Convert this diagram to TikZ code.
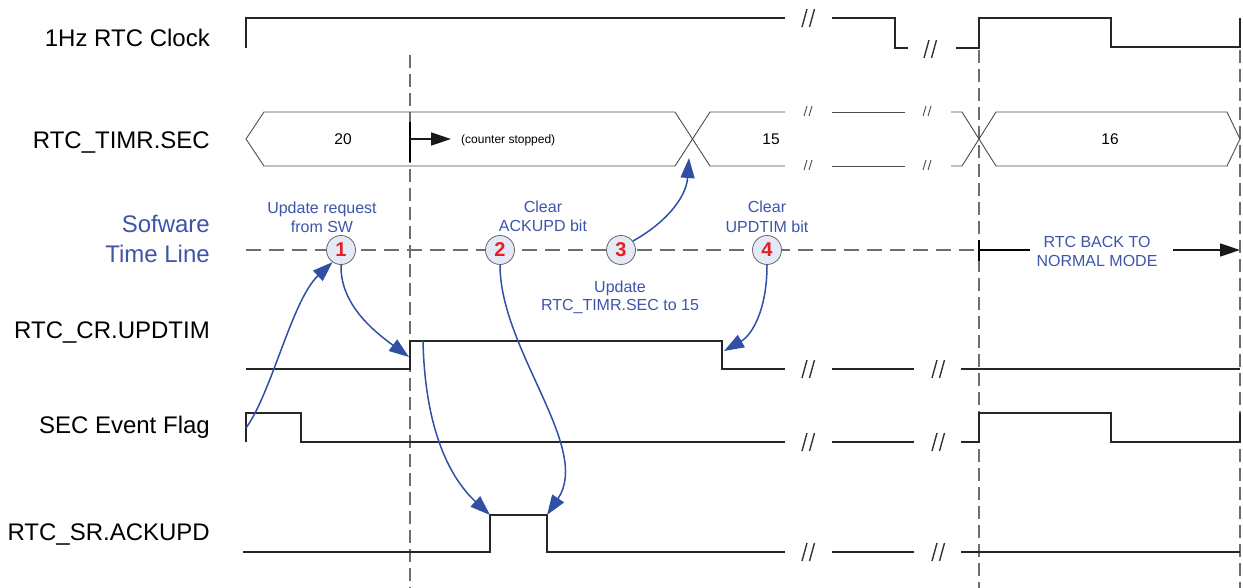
\documentclass[tikz,border=0pt]{standalone}
\usepackage{fontspec}
\setmainfont{Liberation Sans}
\usetikzlibrary{arrows.meta}
\definecolor{sigblue}{RGB}{47,80,165}
\definecolor{txtblue}{RGB}{60,85,170}
\definecolor{dashgray}{RGB}{110,110,110}
\definecolor{circfill}{RGB}{228,234,245}
\definecolor{numred}{RGB}{230,30,40}
\newcommand\mybrk[2]{\draw[brk] (#1-6,#2+9) -- (#1-1,#2-9) (#1+1.5,#2+9) -- (#1+6.5,#2-9);}
\newcommand\mysbrk[2]{\draw[sbrk] (#1-4,#2+5) -- (#1-1,#2-5) (#1+1,#2+5) -- (#1+4,#2-5);}
\begin{document}
\begin{tikzpicture}[x=1pt,y=-1pt,
  sig/.style={line width=1.7pt, black!85, line join=miter},
  bus/.style={line width=0.9pt, black!70},
  vguide/.style={line width=1.4pt, dashgray, dash pattern=on 13pt off 6pt},
  hguide/.style={line width=1.4pt, dashgray, dash pattern=on 15pt off 8pt},
  brk/.style={line width=1.4pt, black!80},
  sbrk/.style={line width=0.9pt, black!70},
  lbl/.style={anchor=base east, inner sep=0, font=\fontsize{24}{28}\selectfont},
  blbl/.style={anchor=base, inner sep=0, text=txtblue, font=\fontsize{16}{19}\selectfont},
  val/.style={inner sep=0, font=\fontsize{15.5}{18}\selectfont},
  num/.style={circle, draw=black!60, line width=0.8pt, fill=circfill, minimum size=29pt, inner sep=0, text=numred, font=\bfseries\fontsize{20}{23}\selectfont},
  flow/.style={sigblue, line width=1.5pt, -{Triangle[length=20pt,width=14pt]}},
  blk/.style={line width=1.5pt, black!90, -{Triangle[length=20pt,width=13pt]}}
]
\path[use as bounding box] (0,0) rectangle (1243,588);

% left labels
\node[lbl] (l1) at (210,47) {1Hz RTC Clock};
\node[lbl] (l2) at (210,149) {RTC\_TIMR.SEC};
\node[lbl, text=txtblue] (l3a) at (210,233) {Sofware};
\node[lbl, text=txtblue] (l3b) at (210,262) {Time Line};
\node[lbl] (l4) at (210,338) {RTC\_CR.UPDTIM};
\node[lbl] (l5) at (210,433) {SEC Event Flag};
\node[lbl] (l6) at (210,540) {RTC\_SR.ACKUPD};

% vertical guides
\draw[vguide] (410,55) -- (410,588);
\draw[vguide] (979,50) -- (979,588);
\draw[vguide] (1240,50) -- (1240,588);

% 1Hz clock
\draw[sig] (246,48) -- (246,18) -- (785,18);
\draw[sig] (832,18) -- (895,18) -- (895,48) -- (908,48);
\draw[sig] (956,48) -- (979,48) -- (979,18) -- (1111,18) -- (1111,47) -- (1240,47) -- (1240,18);
\mybrk{808}{18}
\mybrk{930}{49}

% bus RTC_TIMR.SEC
\draw[bus] (675,112) -- (264,112) -- (246,139) -- (264,166) -- (675,166);
\draw[bus] (675,112) -- (710,166) -- (785,166);
\draw[bus] (675,166) -- (710,112) -- (785,112);
\draw[bus] (832,112) -- (905,112);
\draw[bus] (832,166) -- (905,166);
\draw[bus] (951,112) -- (962,112) -- (996,166) -- (1227,166) -- (1240,139) -- (1227,112) -- (996,112) -- (962,166) -- (951,166);
\mysbrk{808}{111}
\mysbrk{808}{165}
\mysbrk{927}{111}
\mysbrk{927}{165}
\node[val] (v20) at (343,139) {20};
\node[val] (v15) at (771,139) {15};
\node[val] (v16) at (1110,139) {16};
\draw[line width=2pt] (410,122) -- (410,162);
\coordinate (cs0) at (410,139);
\coordinate (cs1) at (451,139);
\draw[blk] (cs0) -- (cs1);
\node[anchor=west, inner sep=0, font=\fontsize{12}{14}\selectfont] (cstop) at (461,140) {(counter stopped)};

% software time line
\draw[hguide] (246,250) -- (979,250);
\node[num] (c1) at (341,250) {1};
\node[num] (c2) at (500,250) {2};
\node[num] (c3) at (621,250) {3};
\node[num] (c4) at (767,250) {4};
\node[blbl] (t1a) at (322,214) {Update request};
\node[blbl] (t1b) at (322,233) {from SW};
\node[blbl] (t2a) at (543,213) {Clear};
\node[blbl] (t2b) at (543,232) {ACKUPD bit};
\node[blbl] (t3a) at (620,292) {Update};
\node[blbl] (t3b) at (620,311) {RTC\_TIMR.SEC to 15};
\node[blbl] (t4a) at (767,213) {Clear};
\node[blbl] (t4b) at (767,233) {UPDTIM bit};
\node[blbl] (t5a) at (1097,248) {RTC BACK TO};
\node[blbl] (t5b) at (1097,267) {NORMAL MODE};
\draw[line width=2pt] (979,240) -- (979,261);
\coordinate (nm0) at (979,250);
\coordinate (nm1) at (1030,250);
\coordinate (nm2) at (1173,250);
\coordinate (nm3) at (1240,250);
\draw[line width=1.5pt] (nm0) -- (nm1);
\draw[blk] (nm2) -- (nm3);

% RTC_CR.UPDTIM
\draw[sig] (246,369) -- (410,369) -- (410,341) -- (722,341) -- (722,369) -- (785,369);
\draw[sig] (832,369) -- (914,369);
\draw[sig] (961,369) -- (1240,369);
\mybrk{808}{369}
\mybrk{938}{369}

% SEC Event Flag
\draw[sig] (246,442) -- (246,413) -- (301,413) -- (301,442) -- (785,442);
\draw[sig] (832,442) -- (914,442);
\draw[sig] (961,442) -- (979,442) -- (979,413) -- (1111,413) -- (1111,442) -- (1240,442) -- (1240,413);
\mybrk{808}{442}
\mybrk{938}{442}

% RTC_SR.ACKUPD
\draw[sig] (243,552) -- (490,552) -- (490,515) -- (547,515) -- (547,552) -- (785,552);
\draw[sig] (832,552) -- (914,552);
\draw[sig] (961,552) -- (1240,552);
\mybrk{808}{552}
\mybrk{938}{552}

% flow arrows
\coordinate (sf) at (246,428);
\coordinate (ur) at (409,357);
\coordinate (uh) at (423,341);
\coordinate (ar) at (490,515);
\coordinate (af) at (547,515);
\coordinate (cx) at (689,158);
\coordinate (uf) at (724,351);
\draw[flow] (sf) .. controls (272,392) and (292,300) .. (c1.235);
\draw[flow] (c1.south) .. controls (340,305) and (375,332) .. (ur);
\draw[flow] (uh) .. controls (425,430) and (450,478) .. (ar);
\draw[flow] (c2.south) .. controls (500,350) and (592,448) .. (af);
\draw[flow] (c3.37) .. controls (662,225) and (686,200) .. (cx);
\draw[flow] (c4.south) .. controls (767,310) and (752,335) .. (uf);
\end{tikzpicture}
\end{document}
